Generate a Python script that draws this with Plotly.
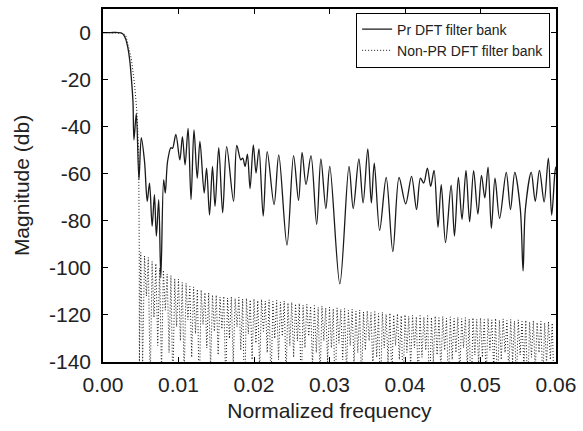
import plotly.graph_objects as go

# ---------------- data ----------------
# PR DFT filter bank: passband / transition, then sidelobe peaks & nulls
pr_freq = [0.0, 0.0010, 0.0020, 0.0025, 0.00275, 0.00301, 0.00328, 0.00354, 0.00376, 0.00397,
           0.00410, 0.00441, 0.00476, 0.00507, 0.00550, 0.00586, 0.00616, 0.00651, 0.00681, 0.00707,
           0.00738, 0.00766, 0.00803, 0.00825, 0.00855, 0.00900, 0.00921, 0.00965, 0.01018, 0.01052,
           0.01087, 0.01127, 0.01166, 0.01205, 0.01248, 0.01284, 0.01340, 0.01372, 0.01411, 0.01450,
           0.01484, 0.01533, 0.01585, 0.01638, 0.01729, 0.01772, 0.01825, 0.01851, 0.01882, 0.01913,
           0.01948, 0.01991, 0.02027, 0.02066, 0.02122, 0.02175, 0.02266, 0.02328, 0.02437, 0.02524,
           0.02590, 0.02637, 0.02689, 0.02755, 0.02830, 0.02886, 0.02952, 0.03004, 0.03137, 0.03258,
           0.03314, 0.03389, 0.03445, 0.03507, 0.03554, 0.03593, 0.03664, 0.03751, 0.03839, 0.03921,
           0.04009, 0.04087, 0.04153, 0.04205, 0.04248, 0.04297, 0.04340, 0.04385, 0.04437, 0.04480,
           0.04537, 0.04611, 0.04655, 0.04707, 0.04755, 0.04808, 0.04856, 0.04909, 0.04965, 0.05013,
           0.05057, 0.05100, 0.05144, 0.05192, 0.05253, 0.05341, 0.05397, 0.05454, 0.05528, 0.05564,
           0.05594, 0.05672, 0.05725, 0.05781, 0.05843, 0.05899, 0.05943, 0.05987, 0.06000]
pr_mag = [0.0, 0.0, 0.0, -0.3, -1.1, -2.8, -6.2, -11.7, -19.6, -29.4,
          -45.6, -34.4, -62.5, -44.7, -54.8, -71.7, -64.0, -82.3, -68.9, -86.5,
          -71.0, -104.2, -62.5, -68.2, -54.8, -48.9, -49.2, -43.3, -54.1, -44.2,
          -56.2, -40.7, -71.0, -41.4, -61.9, -46.3, -68.2, -57.6, -77.6, -56.9,
          -73.8, -48.9, -76.6, -48.5, -71.7, -48.0, -54.1, -53.4, -56.9, -51.7,
          -66.3, -47.7, -59.7, -49.4, -78.0, -50.6, -73.1, -52.0, -90.3, -52.3,
          -71.3, -50.9, -64.6, -52.3, -81.5, -53.7, -74.8, -56.9, -106.8, -56.9,
          -74.8, -53.7, -72.4, -49.4, -72.4, -55.5, -84.1, -61.6, -93.1, -61.6,
          -72.8, -61.1, -75.2, -61.9, -64.0, -57.6, -65.4, -58.6, -82.7, -64.6,
          -89.3, -64.9, -86.5, -61.6, -79.4, -58.6, -80.4, -58.7, -77.1, -60.7,
          -70.3, -57.2, -83.2, -61.9, -79.0, -59.4, -75.2, -59.4, -75.2, -101.3,
          -75.2, -59.4, -71.7, -58.6, -72.0, -53.4, -77.6, -59.0, -57.0]

# Non-PR DFT filter bank: passband / transition
npr_trans_freq = [0.0, 0.0010, 0.0020, 0.0026, 0.00301, 0.00376, 0.00419, 0.00449, 0.00472,
                  0.00476, 0.00480, 0.00482]
npr_trans_mag = [0.0, 0.0, 0.0, -0.3, -1.1, -11.2, -22.4, -33.7, -50.6, -61.9, -92.8, -141.0]

# Non-PR stopband: lobe peaks (from 0.0050 every 0.0005) and the nulls that follow them
npr_lobe_start = 0.0050
npr_lobe_step = 0.0005
npr_peaks = [-93.5, -94.9, -95.6, -97.3, -98.2, -100.1, -101.0, -102.6, -103.3, -104.6,
             -104.8, -106.2, -106.6, -107.9, -108.1, -109.1, -109.4, -110.5, -110.6, -111.5,
             -111.6, -112.4, -112.1, -112.8, -112.3, -113.0, -112.5, -113.2, -112.9, -113.6,
             -113.2, -113.9, -113.4, -114.1, -113.6, -114.3, -113.8, -114.5, -114.1, -114.9,
             -114.6, -115.3, -115.1, -115.9, -115.5, -116.3, -116.0, -116.8, -116.3, -117.0,
             -116.7, -117.4, -117.0, -117.6, -117.3, -118.0, -117.6, -118.4, -117.9, -118.7,
             -118.3, -119.0, -118.6, -119.4, -118.9, -119.7, -119.2, -120.0, -119.5, -120.3,
             -119.9, -120.6, -120.2, -120.8, -120.3, -120.9, -120.3, -121.0, -120.5, -121.2,
             -120.7, -121.4, -120.8, -121.5, -121.0, -121.6, -121.1, -121.7, -121.2, -121.9,
             -121.3, -122.0, -121.4, -122.1, -121.5, -122.2, -121.7, -122.4, -121.9, -122.6,
             -122.1, -122.8, -122.3, -123.0, -122.5, -123.2, -122.7, -123.4, -122.9, -123.5]
npr_nulls = [-140, -112, -150, -121, -133, -145, -118, -136, -152, -125,
             -131, -147, -122, -138, -128, -155, -124, -134, -143, -127,
             -137, -126, -149, -130, -141, -125, -135, -158, -128, -139,
             -132, -144, -127, -136, -151, -130, -139, -129, -146, -133,
             -138, -131, -153, -134, -129, -142, -136, -148, -131, -140,
             -134, -157, -132, -139, -145, -133, -141, -136, -150, -135,
             -131, -143, -138, -155, -134, -140, -147, -133, -139, -152,
             -136, -142, -134, -149, -138, -135, -156, -140, -137, -144,
             -135, -151, -139, -136, -146, -134, -142, -158, -137, -141,
             -138, -148, -135, -143, -153, -139, -136, -145, -140, -150,
             -137, -142, -155, -138, -144, -136, -149, -141, -139, -152]

x_ticks = [0.00, 0.01, 0.02, 0.03, 0.04, 0.05, 0.06]
x_tick_labels = ["0.00", "0.01", "0.02", "0.03", "0.04", "0.05", "0.06"]
y_ticks = [0, -20, -40, -60, -80, -100, -120, -140]
y_tick_labels = ["0", "-20", "-40", "-60", "-80", "-100", "-120", "-140"]

# ---------------- build the non-PR trace ----------------
npr_freq = list(npr_trans_freq)
npr_mag = list(npr_trans_mag)
for k, (pk, nl) in enumerate(zip(npr_peaks, npr_nulls)):
    f = npr_lobe_start + k * npr_lobe_step
    npr_freq += [f, f + npr_lobe_step / 2]
    npr_mag += [pk, nl]

FONT = "Liberation Sans, Arial, sans-serif"

fig = go.Figure()
fig.add_trace(go.Scatter(
    x=pr_freq, y=pr_mag, mode="lines", name="Pr DFT filter bank",
    line=dict(color="#1a1a1a", width=1.3, shape="spline", smoothing=0.9)))
fig.add_trace(go.Scatter(
    x=npr_freq, y=npr_mag, mode="lines", name="Non-PR DFT filter bank",
    line=dict(color="#1a1a1a", width=1, dash="1px,2px")))

axis_common = dict(
    showline=True, linecolor="black", linewidth=1.5, mirror="allticks",
    ticks="inside", ticklen=5, tickwidth=1, tickcolor="black",
    showgrid=False, zeroline=False,
    tickfont=dict(family=FONT, size=21, color="#222"),
)

fig.update_layout(
    width=583, height=431,
    margin=dict(l=103, r=22, t=7, b=69),
    paper_bgcolor="white", plot_bgcolor="white",
    font=dict(family=FONT, color="#222"),
    showlegend=True,
    legend=dict(
        x=0.987, xanchor="right", y=0.99, yanchor="top",
        bgcolor="white", bordercolor="black", borderwidth=1,
        font=dict(family=FONT, size=14, color="#222"),
        tracegroupgap=0, itemwidth=30,
    ),
    xaxis=dict(
        range=[0, 0.06], tickvals=x_ticks, ticktext=x_tick_labels,
        ticklabelstandoff=3,
        title=dict(text="Normalized frequency", font=dict(family=FONT, size=21, color="#222"), standoff=8),
        **axis_common),
    yaxis=dict(
        range=[-140, 10], tickvals=y_ticks, ticktext=y_tick_labels,
        ticklabelstandoff=6,
        title=dict(text="Magnitude (db)", font=dict(family=FONT, size=21, color="#222"), standoff=14),
        **axis_common),
)

# remove the default page margin so the 583x431 figure fills the window exactly
fig.write_html("out.html", config={"displayModeBar": False},
               post_script="document.body.style.margin='0';")
